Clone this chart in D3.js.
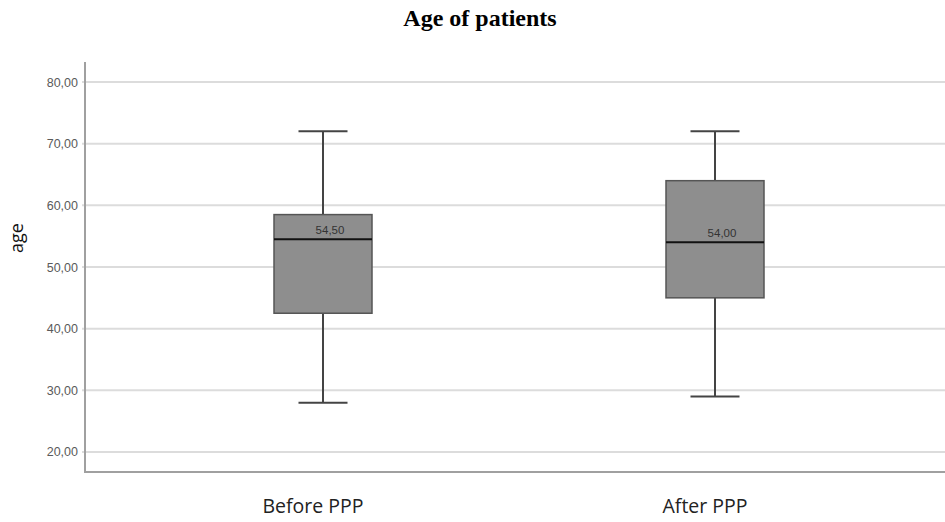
<!DOCTYPE html>
<html>
<head>
<meta charset="utf-8">
<script src="https://cdn.jsdelivr.net/npm/d3@7"></script>
<style>
  body { margin: 0; background: #fff; }
</style>
</head>
<body>
<div id="container"></div>
<script>
/* DATA */
const groups = ["Before PPP", "After PPP"];
const mins = [28, 29];
const q1s = [42.5, 45];
const medians = [54.5, 54];
const q3s = [58.5, 64];
const maxs = [72, 72];
const yTicks = [20, 30, 40, 50, 60, 70, 80];

/* CONSTANTS */
const width = 945;
const height = 522;
const plot = { left: 85, right: 945, top: 62, bottom: 472 };

const commaFmt = d3.formatLocale({ decimal: ",", thousands: ".", grouping: [3], currency: ["", ""] }).format(".2f");

const data = groups.map((g, i) => ({
  group: g, min: mins[i], q1: q1s[i], median: medians[i], q3: q3s[i], max: maxs[i]
}));

const svg = d3.select("#container")
  .append("svg")
  .attr("width", width)
  .attr("height", height)
  .style("background-color", "#ffffff");

/* SCALES */
const yScale = d3.scaleLinear()
  .domain([16.75, 83.25])
  .range([plot.bottom, plot.top]);

const xScale = d3.scaleBand()
  .domain(groups)
  .range([127, 911]);

const boxW = xScale.bandwidth() * 0.25;
const capW = boxW * 0.5;
const cx = d => xScale(d.group) + xScale.bandwidth() / 2;

// Title
svg.append("text")
  .attr("x", 480)
  .attr("y", 26)
  .attr("text-anchor", "middle")
  .style("font-family", "'Liberation Serif', serif")
  .style("font-weight", "bold")
  .style("font-size", "24px")
  .text("Age of patients");

// gridlines
svg.append("g")
  .selectAll("line")
  .data(yTicks)
  .join("line")
  .attr("x1", plot.left - 3)
  .attr("x2", plot.right)
  .attr("y1", d => yScale(d))
  .attr("y2", d => yScale(d))
  .attr("stroke", "#dcdcdc")
  .attr("stroke-width", 2);

// Y axis
const yAxis = svg.append("g")
  .attr("transform", `translate(${plot.left},0)`)
  .call(d3.axisLeft(yScale).tickValues(yTicks).tickFormat(commaFmt).tickSize(0).tickPadding(7));
yAxis.select(".domain").remove();
yAxis.selectAll("text")
  .style("font-family", "'Liberation Sans', Arial, sans-serif")
  .style("font-size", "12.5px")
  .attr("fill", "#5a5a5a");

// axis lines
svg.append("line")
  .attr("x1", plot.left).attr("x2", plot.left)
  .attr("y1", plot.top).attr("y2", plot.bottom)
  .attr("stroke", "#a0a0a0").attr("stroke-width", 2);
svg.append("line")
  .attr("x1", plot.left - 1).attr("x2", plot.right)
  .attr("y1", plot.bottom).attr("y2", plot.bottom)
  .attr("stroke", "#a0a0a0").attr("stroke-width", 2);

// Y label
svg.append("text")
  .attr("transform", "rotate(-90)")
  .attr("x", -238)
  .attr("y", 23)
  .attr("text-anchor", "middle")
  .style("font-family", "'Open Sans', sans-serif")
  .style("font-size", "18px")
  .attr("fill", "#111")
  .text("age");

// X labels
svg.append("g")
  .selectAll("text")
  .data(groups)
  .join("text")
  .attr("x", d => xScale(d) + xScale.bandwidth() / 2 - 10)
  .attr("y", 513)
  .attr("text-anchor", "middle")
  .style("font-family", "'Open Sans', sans-serif")
  .style("font-size", "19.5px")
  .attr("fill", "#222")
  .text(d => d);

/* BOXES */
const box = svg.append("g")
  .selectAll("g")
  .data(data)
  .join("g");

// whiskers
box.append("line")
  .attr("x1", cx).attr("x2", cx)
  .attr("y1", d => yScale(d.max)).attr("y2", d => yScale(d.min))
  .attr("stroke", "#444").attr("stroke-width", 2);
box.append("line")
  .attr("x1", d => cx(d) - capW / 2).attr("x2", d => cx(d) + capW / 2)
  .attr("y1", d => yScale(d.max)).attr("y2", d => yScale(d.max))
  .attr("stroke", "#444").attr("stroke-width", 2);
box.append("line")
  .attr("x1", d => cx(d) - capW / 2).attr("x2", d => cx(d) + capW / 2)
  .attr("y1", d => yScale(d.min)).attr("y2", d => yScale(d.min))
  .attr("stroke", "#444").attr("stroke-width", 2);

box.append("rect")
  .attr("x", d => cx(d) - boxW / 2)
  .attr("width", boxW)
  .attr("y", d => yScale(d.q3))
  .attr("height", d => yScale(d.q1) - yScale(d.q3))
  .attr("fill", "#8e8e8e")
  .attr("stroke", "#555")
  .attr("stroke-width", 1.5);

box.append("line")
  .attr("x1", d => cx(d) - boxW / 2).attr("x2", d => cx(d) + boxW / 2)
  .attr("y1", d => yScale(d.median)).attr("y2", d => yScale(d.median))
  .attr("stroke", "#111").attr("stroke-width", 2);

box.append("text")
  .attr("x", d => cx(d) + 7)
  .attr("y", d => yScale(d.median) - 5)
  .attr("text-anchor", "middle")
  .style("font-family", "'Liberation Sans', Arial, sans-serif")
  .style("font-size", "11.5px")
  .attr("fill", "#333")
  .text(d => commaFmt(d.median));
</script>
</body>
</html>
